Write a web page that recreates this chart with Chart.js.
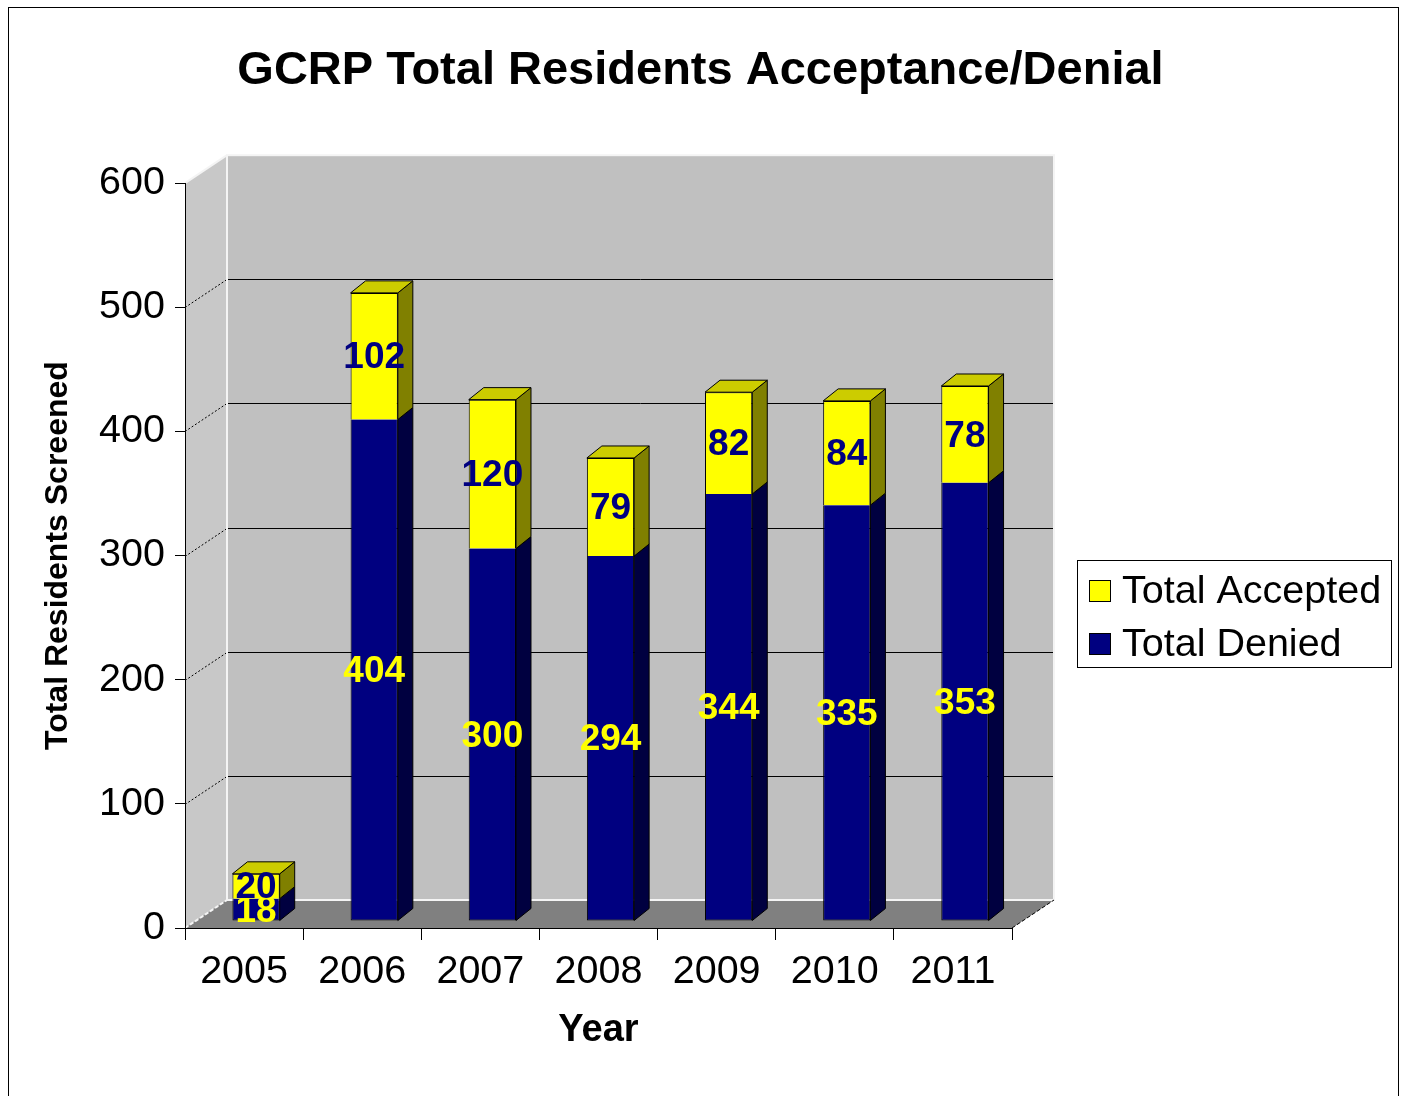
<!DOCTYPE html>
<html>
<head>
<meta charset="utf-8">
<script src="https://cdn.jsdelivr.net/npm/chart.js@4"></script>
<style>
  body { margin: 0; background: #fff; }
  canvas { display: block; }
</style>
</head>
<body>
<canvas id="residentsChart" width="1401" height="1096"></canvas>
<script>
const years = ['2005', '2006', '2007', '2008', '2009', '2010', '2011'];
const totalDenied = [18, 404, 300, 294, 344, 335, 353];
const totalAccepted = [20, 102, 120, 79, 82, 84, 78];
const yMax = 600;
const yStep = 100;

// fake 3d: depth of the walls, shift of the bars into the box, depth of the bars
const wallDX = 42, wallDY = -28;
const barSX = 12, barSY = -7;
const barDX = 15, barDY = -12;

Chart.defaults.font.family = '"Liberation Sans", Arial, sans-serif';
Chart.defaults.color = '#000';

function poly(ctx, pts, fill, stroke) {
  ctx.beginPath();
  pts.forEach((p, i) => i ? ctx.lineTo(p[0], p[1]) : ctx.moveTo(p[0], p[1]));
  ctx.closePath();
  if (fill) { ctx.fillStyle = fill; ctx.fill(); }
  if (stroke) { ctx.strokeStyle = stroke; ctx.lineWidth = 1; ctx.stroke(); }
}

function line(ctx, x1, y1, x2, y2) {
  ctx.beginPath();
  ctx.moveTo(x1, y1);
  ctx.lineTo(x2, y2);
  ctx.stroke();
}

// walls, floor and back gridlines
const wallsPlugin = {
  id: 'walls',
  beforeDraw(chart) {
    const { ctx, chartArea: a } = chart;
    const y = chart.scales.y;
    ctx.save();
    ctx.fillStyle = '#fff';
    ctx.fillRect(0, 0, chart.width, chart.height);
    ctx.strokeStyle = '#000';
    ctx.lineWidth = 1;
    ctx.strokeRect(8.5, 7.5, 1390, 1110);

    // back wall
    ctx.fillStyle = '#c0c0c0';
    ctx.fillRect(a.left + wallDX, a.top + wallDY, a.width, a.height);
    // left wall
    poly(ctx, [[a.left, a.top], [a.left + wallDX, a.top + wallDY],
      [a.left + wallDX, a.bottom + wallDY], [a.left, a.bottom]], '#c8c8c8');
    // floor
    poly(ctx, [[a.left, a.bottom], [a.right, a.bottom],
      [a.right + wallDX, a.bottom + wallDY], [a.left + wallDX, a.bottom + wallDY]], '#808080');

    // gridlines on the back wall and the side wall
    for (let v = yStep; v < yMax; v += yStep) {
      const py = Math.round(y.getPixelForValue(v)) + 0.5;
      ctx.strokeStyle = '#000';
      ctx.setLineDash([]);
      line(ctx, a.left + wallDX, py + wallDY, a.right + wallDX, py + wallDY);
      ctx.setLineDash([2, 2]);
      line(ctx, a.left, py, a.left + wallDX, py + wallDY);
    }

    // light edges
    ctx.setLineDash([]);
    ctx.strokeStyle = '#f4f4f4';
    ctx.lineWidth = 2;
    ctx.strokeRect(a.left + wallDX, a.top + wallDY, a.width, a.height);
    line(ctx, a.left, a.top, a.left + wallDX, a.top + wallDY);
    ctx.setLineDash([4, 2]);
    line(ctx, a.left, a.bottom, a.left + wallDX, a.bottom + wallDY);
    ctx.strokeStyle = '#000';
    ctx.lineWidth = 1;
    line(ctx, a.right, a.bottom, a.right + wallDX, a.bottom + wallDY);
    ctx.restore();
  }
};

// shifts the bars back a bit, adds the side/top faces, value labels and the legend box
const barsPlugin = {
  id: 'bars3d',
  beforeDatasetsDraw(chart) {
    chart.ctx.save();
    chart.ctx.translate(barSX, barSY);
  },
  afterDatasetsDraw(chart) {
    const ctx = chart.ctx;
    ctx.restore();
    ctx.save();
    const last = chart.data.datasets.length - 1;
    chart.data.datasets.forEach((ds, i) => {
      chart.getDatasetMeta(i).data.forEach((bar, j) => {
        const { x, y, base, width } = bar.getProps(['x', 'y', 'base', 'width'], true);
        const left = x - width / 2 + barSX, right = x + width / 2 + barSX;
        const top = Math.min(y, base) + barSY, bottom = Math.max(y, base) + barSY;
        poly(ctx, [[right, top], [right + barDX, top + barDY],
          [right + barDX, bottom + barDY], [right, bottom]], ds.sideColor, '#000');
        if (i === last) {
          poly(ctx, [[left, top], [left + barDX, top + barDY],
            [right + barDX, top + barDY], [right, top]], ds.topColor, '#000');
        }
      });
    });

    ctx.font = 'bold 37px "Liberation Sans", Arial, sans-serif';
    ctx.textAlign = 'center';
    ctx.textBaseline = 'middle';
    chart.data.datasets.forEach((ds, i) => {
      chart.getDatasetMeta(i).data.forEach((bar, j) => {
        const { x, y, base } = bar.getProps(['x', 'y', 'base'], true);
        ctx.fillStyle = ds.labelColor;
        ctx.fillText(ds.data[j], x + barSX, (y + base) / 2 + barSY + 2);
      });
    });
    ctx.restore();
  },
  afterDraw(chart) {
    const ctx = chart.ctx;
    ctx.save();
    ctx.fillStyle = '#fff';
    ctx.fillRect(1077.5, 560.5, 314, 107);
    ctx.strokeStyle = '#000';
    ctx.lineWidth = 1;
    ctx.strokeRect(1077.5, 560.5, 314, 107);
    ctx.font = '39.5px "Liberation Sans", Arial, sans-serif';
    ctx.textBaseline = 'middle';
    ctx.textAlign = 'left';
    const items = chart.data.datasets.slice().reverse();
    items.forEach((ds, k) => {
      const cy = 591 + k * 53;
      ctx.fillStyle = ds.backgroundColor;
      ctx.fillRect(1089.5, cy - 10.5, 21, 21);
      ctx.strokeRect(1089.5, cy - 10.5, 21, 21);
      ctx.fillStyle = '#000';
      ctx.fillText(ds.label, 1122, cy + 1);
    });
    ctx.restore();
  }
};

new Chart(document.getElementById('residentsChart'), {
  type: 'bar',
  data: {
    labels: years,
    datasets: [{
      label: 'Total Denied',
      data: totalDenied,
      backgroundColor: '#000080',
      sideColor: '#000040',
      labelColor: '#ffff00',
      borderColor: '#000',
      borderWidth: { left: 1, right: 1, bottom: 1, top: 0 },
      borderSkipped: false
    }, {
      label: 'Total Accepted',
      data: totalAccepted,
      backgroundColor: '#ffff00',
      sideColor: '#808000',
      topColor: '#cccc00',
      labelColor: '#000080',
      borderColor: '#000',
      borderWidth: { left: 1, right: 1, top: 1, bottom: 0 },
      borderSkipped: false
    }]
  },
  options: {
    responsive: false,
    animation: false,
    events: [],
    layout: { padding: 0 },
    datasets: { bar: { barPercentage: 0.4, categoryPercentage: 1 } },
    plugins: {
      legend: { display: false },
      tooltip: { enabled: false },
      title: {
        display: true,
        text: 'GCRP Total Residents Acceptance/Denial',
        font: { size: 47, weight: 'bold' },
        color: '#000',
        padding: { top: 43, bottom: 83.8 }
      }
    },
    scales: {
      x: {
        stacked: true,
        afterFit(scale) { scale.height = 168; },
        grid: { offset: true, drawOnChartArea: false, tickLength: 12, color: '#000' },
        border: { display: true, color: '#000', width: 1 },
        ticks: { font: { size: 39.5 }, color: '#000', padding: 8 },
        title: {
          display: true,
          text: 'Year',
          font: { size: 38, weight: 'bold' },
          color: '#000',
          padding: { top: 0, bottom: 43 }
        }
      },
      y: {
        stacked: true,
        min: 0,
        max: yMax,
        afterFit(scale) { scale.width = 185; },
        grid: { drawOnChartArea: false, tickLength: 10, color: '#000' },
        border: { display: true, color: '#000', width: 1 },
        ticks: { stepSize: yStep, font: { size: 39.5 }, color: '#000', padding: 10 },
        title: {
          display: true,
          text: 'Total Residents Screened',
          font: { size: 32, weight: 'bold' },
          color: '#000',
          padding: { top: 39, bottom: 0 }
        }
      },
      // empty box on the right, reserves the room where the legend sits
      legendRoom: {
        position: 'right',
        display: true,
        afterFit(scale) { scale.width = 389; },
        grid: { display: false },
        border: { display: false },
        ticks: { display: false }
      }
    }
  },
  plugins: [wallsPlugin, barsPlugin]
});
</script>
</body>
</html>
